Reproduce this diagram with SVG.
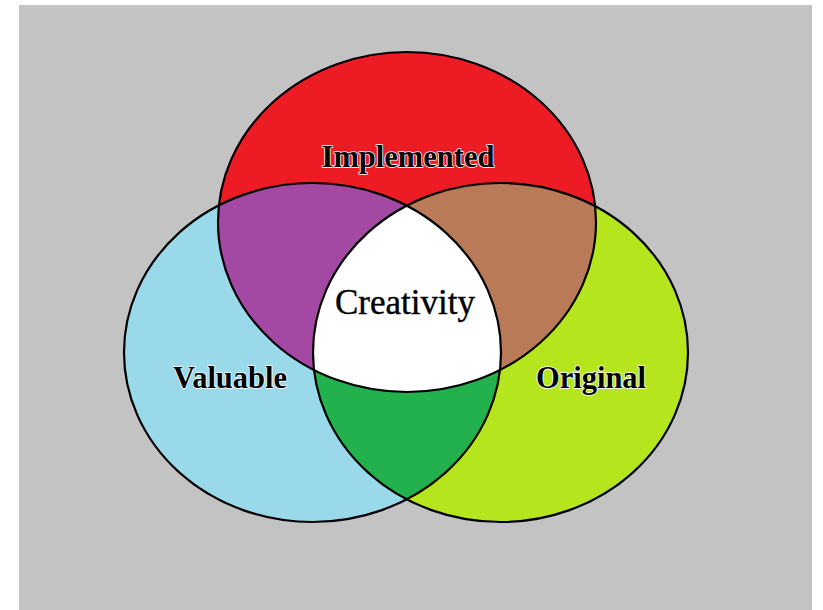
<svg xmlns="http://www.w3.org/2000/svg" width="823" height="610" viewBox="0 0 823 610">
  <style>
    .edge { fill: none; stroke: #000; stroke-width: 2.2; }
    .lbl { font-family: "Liberation Serif", "Times New Roman", serif; font-weight: bold; font-size: 30.5px; fill: #000; stroke: #fff; stroke-width: 1.6; paint-order: stroke; stroke-linejoin: round; text-anchor: middle; }
    .core { font-family: "Liberation Serif", "Times New Roman", serif; font-size: 35px; fill: #000; stroke: #000; stroke-width: 0.4; text-anchor: middle; }
  </style>
  <defs>
    <clipPath id="cRed"><ellipse cx="407" cy="222" rx="189" ry="170"/></clipPath>
    <clipPath id="cBlue"><ellipse cx="312.5" cy="352.5" rx="188.5" ry="169.5"/></clipPath>
    <clipPath id="cGreen"><ellipse cx="500.5" cy="352.5" rx="187.5" ry="169.5"/></clipPath>
  </defs>
  <rect x="0" y="0" width="823" height="610" fill="#ffffff"/>
  <rect x="19" y="5" width="793" height="605" fill="#c3c3c3"/>

  <g id="valuable">
    <ellipse cx="312.5" cy="352.5" rx="188.5" ry="169.5" fill="#99d9ea"/>
  </g>
  <g id="original">
    <ellipse cx="500.5" cy="352.5" rx="187.5" ry="169.5" fill="#b5e61d"/>
  </g>
  <g id="implemented">
    <ellipse cx="407" cy="222" rx="189" ry="170" fill="#ed1c24"/>
  </g>
  <g id="overlaps">
    <ellipse cx="312.5" cy="352.5" rx="188.5" ry="169.5" fill="#a349a4" clip-path="url(#cRed)"/>
    <ellipse cx="500.5" cy="352.5" rx="187.5" ry="169.5" fill="#b97a57" clip-path="url(#cRed)"/>
    <ellipse cx="500.5" cy="352.5" rx="187.5" ry="169.5" fill="#22b14c" clip-path="url(#cBlue)"/>
    <g clip-path="url(#cRed)">
      <ellipse cx="500.5" cy="352.5" rx="187.5" ry="169.5" fill="#ffffff" clip-path="url(#cBlue)"/>
    </g>
  </g>
  <g id="outlines">
    <ellipse class="edge" cx="407" cy="222" rx="189" ry="170"/>
    <ellipse class="edge" cx="312.5" cy="352.5" rx="188.5" ry="169.5"/>
    <ellipse class="edge" cx="500.5" cy="352.5" rx="187.5" ry="169.5"/>
  </g>
  <g id="labels">
    <text class="lbl" x="408" y="167">Implemented</text>
    <text class="lbl" x="230" y="388">Valuable</text>
    <text class="lbl" x="591" y="388">Original</text>
    <text class="core" x="405" y="314">Creativity</text>
  </g>
</svg>
